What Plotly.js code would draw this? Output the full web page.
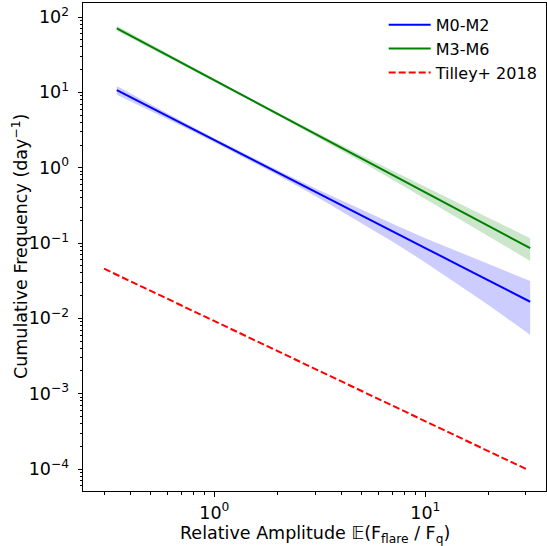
<!DOCTYPE html>
<html>
<head>
<meta charset="utf-8">
<script src="https://cdn.plot.ly/plotly-3.0.1.min.js"></script>
<style>html,body{margin:0;padding:0;background:#fff;}#chart{width:547px;height:546px;}</style>
</head>
<body>
<div id="chart"></div>
<script>
// Relative amplitude grid (x) for the fitted power laws
const ampX = [0.345, 0.5, 0.7, 1, 1.5, 2, 3, 5, 7, 10, 15, 20, 31.4];

// M0-M2 (blue): median and band
const m02Mid   = [10.7, 6.27, 3.87, 2.32, 1.30, 0.861, 0.481, 0.231, 0.143, 0.0857, 0.0480, 0.0318, 0.0166];
const m02Upper = [12.1, 6.87, 4.15, 2.46, 1.38, 0.923, 0.533, 0.275, 0.180, 0.116, 0.0726, 0.0515, 0.0313];
const m02Lower = [9.29, 5.65, 3.57, 2.17, 1.21, 0.794, 0.424, 0.184, 0.104, 0.0553, 0.0258, 0.0149, 0.00604];

// M3-M6 (green): median and band
const m36Mid   = [70.8, 40.7, 24.7, 14.5, 7.94, 5.17, 2.82, 1.32, 0.800, 0.470, 0.257, 0.167, 0.0853];
const m36Upper = [76.5, 43.3, 25.9, 15.1, 8.25, 5.40, 2.99, 1.45, 0.908, 0.552, 0.320, 0.215, 0.116];
const m36Lower = [65.5, 38.3, 23.5, 13.9, 7.62, 4.92, 2.65, 1.19, 0.689, 0.386, 0.197, 0.122, 0.0577];

// Tilley+ 2018
const tilleyX = [0.3, 1, 3, 10, 30];
const tilleyY = [0.0456, 0.00918, 0.00213, 0.000430, 0.000100];

// Tick labels
const xTickVals = [1, 10];
const xTickText = ['10<sup>0</sup>', '10<sup>1</sup>'];
const yTickVals = [1e-4, 1e-3, 1e-2, 1e-1, 1, 10, 100];
const yTickText = ['10<sup>−4</sup>', '10<sup>−3</sup>', '10<sup>−2</sup>', '10<sup>−1</sup>', '10<sup>0</sup>', '10<sup>1</sup>', '10<sup>2</sup>'];

// Axis titles
const xTitle = 'Relative Amplitude 𝔼(F<sub>flare</sub> / F<sub>q</sub>)';
const yTitle = 'Cumulative Frequency (day<sup>−1</sup>)';

function minorVals(lo, hi) {
  const out = [];
  for (let e = lo; e <= hi; e++) for (let d = 2; d <= 9; d++) out.push(d * Math.pow(10, e));
  return out;
}

const FONT = 'DejaVu Sans, Liberation Sans, sans-serif';
const FS = 17.5;
const BLUE = '#0000ff', GREEN = '#008000', RED = '#ff0000';

const traces = [
  {x: ampX, y: m02Upper, mode: 'lines', line: {width: 0, color: BLUE}, showlegend: false, hoverinfo: 'skip'},
  {x: ampX, y: m02Lower, mode: 'lines', line: {width: 0, color: BLUE}, fill: 'tonexty', fillcolor: 'rgba(0,0,255,0.2)', showlegend: false, hoverinfo: 'skip'},
  {x: ampX, y: m36Upper, mode: 'lines', line: {width: 0, color: GREEN}, showlegend: false, hoverinfo: 'skip'},
  {x: ampX, y: m36Lower, mode: 'lines', line: {width: 0, color: GREEN}, fill: 'tonexty', fillcolor: 'rgba(0,128,0,0.2)', showlegend: false, hoverinfo: 'skip'},
  {x: ampX, y: m02Mid, mode: 'lines', name: 'M0-M2', line: {width: 2, color: BLUE}},
  {x: ampX, y: m36Mid, mode: 'lines', name: 'M3-M6', line: {width: 2, color: GREEN}},
  {x: tilleyX, y: tilleyY, mode: 'lines', name: 'Tilley+ 2018', line: {width: 2, color: RED, dash: '7px,3px'}}
];

const axisCommon = {
  type: 'log',
  showgrid: false,
  zeroline: false,
  showline: true,
  linecolor: 'black',
  linewidth: 1,
  mirror: true,
  ticks: 'outside',
  ticklen: 4.5,
  tickwidth: 1,
  tickcolor: 'black',
  tickmode: 'array',
  tickfont: {family: FONT, size: FS, color: 'black'},
  automargin: false
};

const layout = {
  width: 547,
  height: 546,
  margin: {l: 83, r: 1, t: 3, b: 55},
  paper_bgcolor: 'white',
  plot_bgcolor: 'white',
  font: {family: FONT, size: FS, color: 'black'},
  xaxis: Object.assign({}, axisCommon, {
    range: [-0.6225, 1.572],
    tickvals: xTickVals,
    ticktext: xTickText,
    ticklabelstandoff: 1,
    minor: {tickmode: 'array', tickvals: minorVals(-1, 1), ticks: 'outside', ticklen: 2.5, tickcolor: 'black', tickwidth: 1, showgrid: false}
  }),
  yaxis: Object.assign({}, axisCommon, {
    range: [-4.292, 2.186],
    tickvals: yTickVals,
    ticktext: yTickText,
    ticklabelstandoff: 5,
    minor: {tickmode: 'array', tickvals: minorVals(-5, 2), ticks: 'outside', ticklen: 2.5, tickcolor: 'black', tickwidth: 1, showgrid: false}
  }),
  annotations: [
    {text: xTitle, xref: 'paper', yref: 'paper', x: 0.5, y: -0.09, xanchor: 'center', yanchor: 'middle',
     showarrow: false, font: {family: FONT, size: FS, color: 'black'}},
    {text: yTitle, xref: 'paper', yref: 'paper', x: -0.136, y: 0.5, xanchor: 'center', yanchor: 'middle',
     textangle: -90, showarrow: false, font: {family: FONT, size: FS, color: 'black'}}
  ],
  legend: {
    x: 0.995, y: 0.99, xanchor: 'right', yanchor: 'top',
    bgcolor: 'rgba(255,255,255,0)',
    font: {family: FONT, size: 16, color: 'black'},
    itemwidth: 42,
    traceorder: 'normal',
    tracegroupgap: 0
  },
  showlegend: true
};

Plotly.newPlot('chart', traces, layout, {staticPlot: true, displayModeBar: false});
</script>
</body>
</html>
